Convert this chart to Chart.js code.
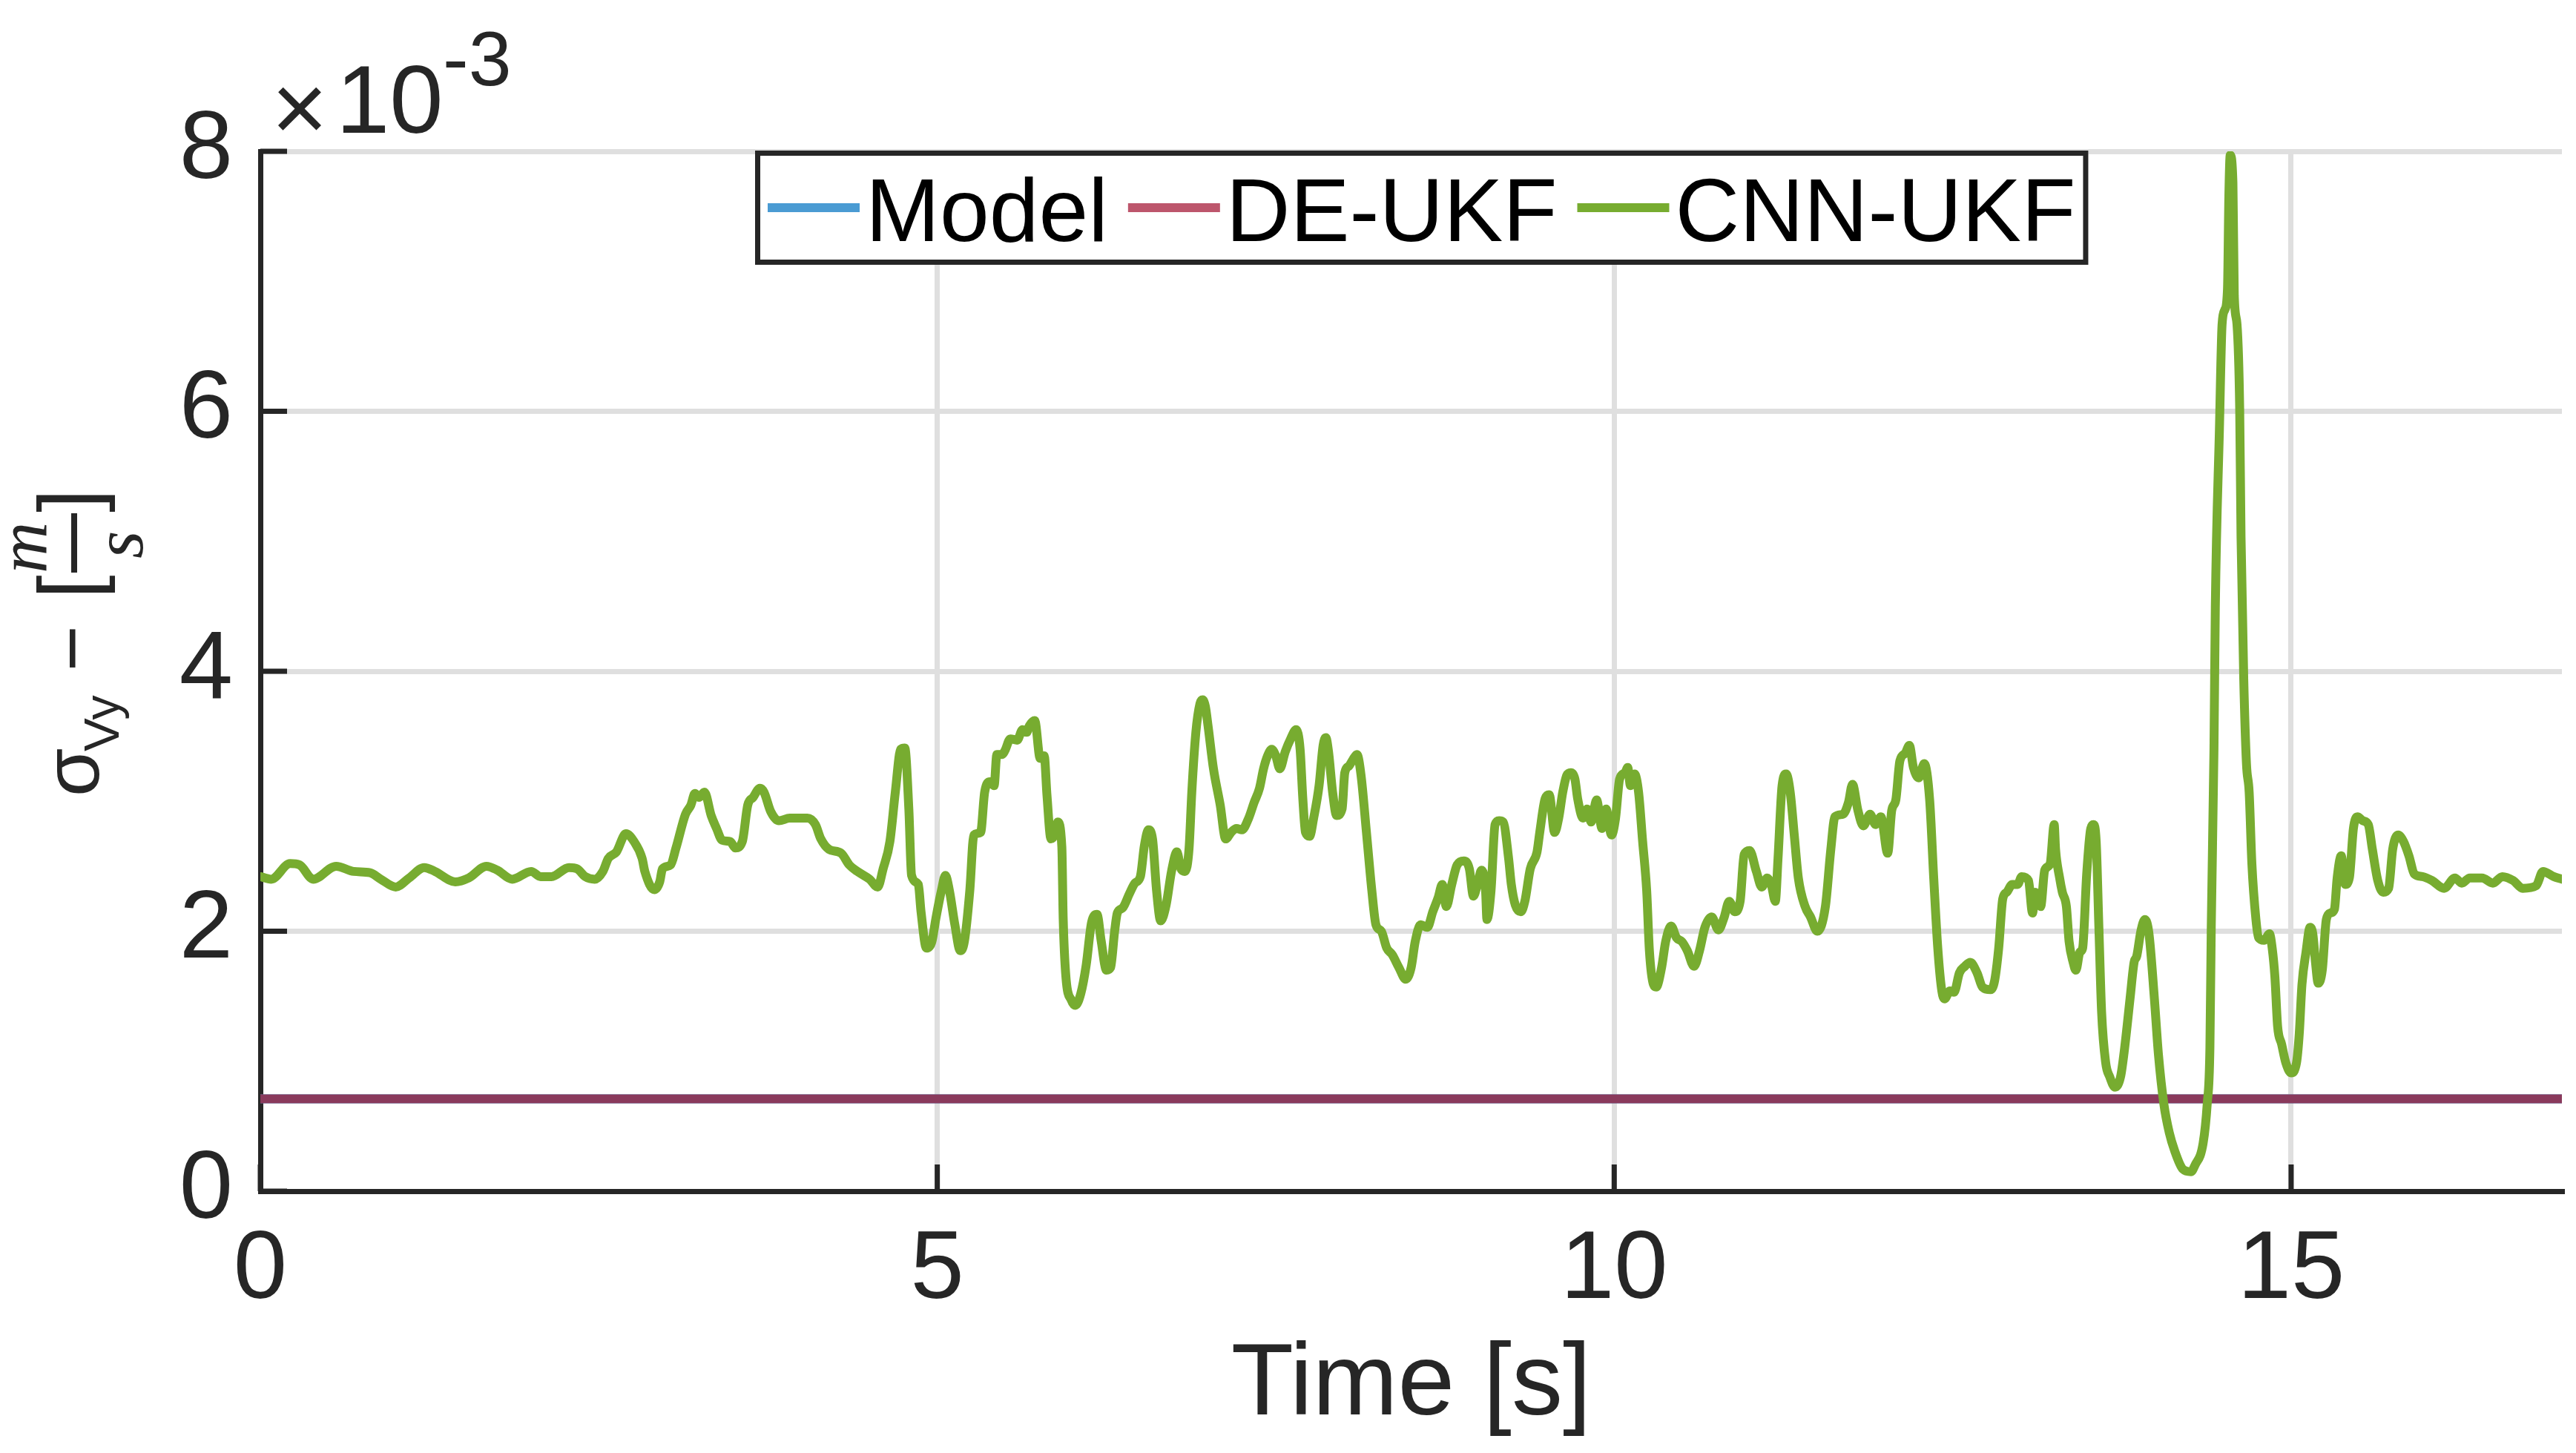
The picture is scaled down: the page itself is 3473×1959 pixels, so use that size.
<!DOCTYPE html>
<html>
<head>
<meta charset="utf-8">
<script src="https://cdn.jsdelivr.net/npm/chart.js@4.4.1/dist/chart.umd.min.js"></script>
<style>
    body { margin: 0; background: #fff; }
    canvas { display: block; }
</style>
</head>
<body>
<canvas id="chart" width="3473" height="1959"></canvas>
<script>
// values, y in units of 1e-3 m/s
const cnnTime = [
    0.00, 0.08, 0.22, 0.29, 0.39, 0.56, 0.69, 0.81, 0.89, 1.00, 1.10, 1.21, 1.29, 1.44, 1.54, 1.67, 1.75, 1.86, 2.00, 2.07,
    2.15, 2.28, 2.34, 2.40, 2.47, 2.53, 2.57, 2.63, 2.70, 2.76, 2.82, 2.84, 2.91, 2.95, 2.97, 3.03, 3.07, 3.14, 3.18, 3.21,
    3.24, 3.28, 3.33, 3.37, 3.41, 3.47, 3.51, 3.56, 3.60, 3.64, 3.69, 3.72, 3.77, 3.83, 3.91, 4.04, 4.10, 4.14, 4.20, 4.29,
    4.35, 4.41, 4.50, 4.56, 4.60, 4.65, 4.69, 4.73, 4.76, 4.79, 4.81, 4.86, 4.88, 4.92, 4.96, 4.99, 5.03, 5.06, 5.09, 5.13,
    5.17, 5.20, 5.24, 5.27, 5.32, 5.35, 5.39, 5.42, 5.44, 5.48, 5.50, 5.54, 5.59, 5.63, 5.66, 5.68, 5.72, 5.76, 5.79, 5.81,
    5.84, 5.87, 5.89, 5.92, 5.93, 5.95, 5.99, 6.02, 6.06, 6.10, 6.14, 6.18, 6.21, 6.25, 6.28, 6.31, 6.33, 6.37, 6.42, 6.46,
    6.50, 6.53, 6.56, 6.59, 6.62, 6.65, 6.69, 6.73, 6.77, 6.80, 6.83, 6.86, 6.88, 6.91, 6.94, 6.96, 6.98, 7.00, 7.04, 7.09,
    7.13, 7.17, 7.21, 7.25, 7.30, 7.34, 7.38, 7.41, 7.44, 7.47, 7.50, 7.53, 7.57, 7.61, 7.65, 7.68, 7.70, 7.72, 7.75, 7.78,
    7.82, 7.85, 7.87, 7.89, 7.92, 7.95, 7.99, 8.01, 8.04, 8.07, 8.10, 8.13, 8.17, 8.21, 8.24, 8.28, 8.32, 8.36, 8.41, 8.46,
    8.50, 8.53, 8.57, 8.62, 8.66, 8.70, 8.73, 8.76, 8.80, 8.84, 8.89, 8.93, 8.96, 8.99, 9.02, 9.05, 9.06, 9.09, 9.12, 9.15,
    9.18, 9.22, 9.24, 9.27, 9.31, 9.34, 9.38, 9.43, 9.45, 9.49, 9.52, 9.56, 9.59, 9.62, 9.65, 9.68, 9.71, 9.73, 9.77, 9.80,
    9.83, 9.87, 9.91, 9.94, 9.98, 10.01, 10.04, 10.08, 10.10, 10.12, 10.15, 10.18, 10.21, 10.24, 10.26, 10.29, 10.31, 10.35, 10.38, 10.42,
    10.46, 10.50, 10.54, 10.59, 10.63, 10.67, 10.72, 10.77, 10.81, 10.85, 10.89, 10.93, 10.96, 11.00, 11.05, 11.09, 11.13, 11.16, 11.19, 11.21,
    11.24, 11.27, 11.30, 11.33, 11.36, 11.41, 11.45, 11.50, 11.56, 11.60, 11.63, 11.69, 11.73, 11.76, 11.80, 11.84, 11.89, 11.93, 11.97, 12.02,
    12.05, 12.08, 12.11, 12.15, 12.18, 12.21, 12.25, 12.29, 12.33, 12.36, 12.39, 12.42, 12.44, 12.48, 12.51, 12.55, 12.59, 12.63, 12.68, 12.72,
    12.78, 12.81, 12.84, 12.87, 12.90, 12.94, 12.98, 13.01, 13.06, 13.09, 13.11, 13.15, 13.18, 13.22, 13.25, 13.26, 13.29, 13.31, 13.34, 13.36,
    13.39, 13.41, 13.44, 13.46, 13.49, 13.52, 13.54, 13.56, 13.58, 13.60, 13.63, 13.66, 13.70, 13.74, 13.77, 13.81, 13.84, 13.86, 13.89, 13.92,
    13.95, 13.99, 14.02, 14.06, 14.10, 14.14, 14.20, 14.26, 14.29, 14.35, 14.38, 14.40, 14.41, 14.43, 14.44, 14.47, 14.49, 14.51, 14.53, 14.54,
    14.55, 14.57, 14.58, 14.60, 14.62, 14.63, 14.65, 14.67, 14.69, 14.71, 14.74, 14.76, 14.80, 14.84, 14.86, 14.88, 14.90, 14.93, 14.96, 15.00,
    15.04, 15.06, 15.08, 15.11, 15.14, 15.16, 15.18, 15.20, 15.23, 15.26, 15.29, 15.32, 15.34, 15.37, 15.40, 15.43, 15.46, 15.49, 15.53, 15.57,
    15.60, 15.64, 15.68, 15.72, 15.75, 15.79, 15.83, 15.87, 15.91, 15.97, 16.04, 16.13, 16.21, 16.26, 16.32, 16.41, 16.49, 16.56, 16.64, 16.71,
    16.81, 16.86, 16.94, 17.00
];
const cnnValue = [
    2.42, 2.40, 2.52, 2.51, 2.40, 2.50, 2.46, 2.45, 2.40, 2.34, 2.41, 2.49, 2.46, 2.38, 2.41, 2.50, 2.47, 2.40, 2.46, 2.42,
    2.42, 2.49, 2.48, 2.42, 2.40, 2.46, 2.56, 2.61, 2.75, 2.69, 2.56, 2.46, 2.32, 2.38, 2.48, 2.51, 2.64, 2.90, 2.97, 3.06,
    3.03, 3.07, 2.89, 2.79, 2.70, 2.69, 2.64, 2.69, 2.97, 3.03, 3.10, 3.07, 2.92, 2.85, 2.87, 2.87, 2.82, 2.71, 2.63, 2.60,
    2.51, 2.46, 2.40, 2.34, 2.48, 2.69, 3.07, 3.40, 3.41, 2.94, 2.43, 2.36, 2.15, 1.87, 1.92, 2.10, 2.31, 2.43, 2.31, 2.05,
    1.85, 1.92, 2.31, 2.74, 2.76, 3.07, 3.15, 3.12, 3.36, 3.36, 3.39, 3.48, 3.47, 3.55, 3.53, 3.58, 3.62, 3.33, 3.35, 3.05,
    2.71, 2.75, 2.84, 2.65, 2.10, 1.65, 1.47, 1.43, 1.52, 1.74, 2.07, 2.13, 1.93, 1.70, 1.72, 2.00, 2.14, 2.18, 2.29, 2.37,
    2.42, 2.66, 2.78, 2.71, 2.31, 2.08, 2.20, 2.46, 2.61, 2.48, 2.46, 2.64, 3.07, 3.53, 3.75, 3.78, 3.73, 3.58, 3.25, 2.97,
    2.71, 2.76, 2.79, 2.78, 2.87, 2.99, 3.10, 3.25, 3.35, 3.40, 3.35, 3.25, 3.38, 3.48, 3.55, 3.40, 3.02, 2.76, 2.73, 2.87,
    3.12, 3.43, 3.49, 3.38, 3.07, 2.89, 2.94, 3.22, 3.27, 3.32, 3.36, 3.20, 2.76, 2.31, 2.05, 2.00, 1.87, 1.82, 1.72, 1.63,
    1.72, 1.92, 2.05, 2.03, 2.15, 2.26, 2.36, 2.19, 2.36, 2.51, 2.54, 2.48, 2.27, 2.36, 2.47, 2.31, 2.09, 2.31, 2.82, 2.85,
    2.84, 2.56, 2.36, 2.20, 2.15, 2.23, 2.48, 2.61, 2.76, 3.02, 3.05, 2.76, 2.87, 3.07, 3.20, 3.22, 3.17, 3.02, 2.87, 2.94,
    2.84, 3.01, 2.79, 2.94, 2.74, 2.87, 3.17, 3.22, 3.26, 3.12, 3.21, 3.07, 2.69, 2.31, 1.85, 1.59, 1.57, 1.72, 1.92, 2.04,
    1.95, 1.92, 1.85, 1.73, 1.85, 2.03, 2.11, 2.01, 2.10, 2.23, 2.15, 2.23, 2.59, 2.62, 2.46, 2.34, 2.41, 2.36, 2.23, 2.56,
    3.12, 3.21, 3.07, 2.74, 2.41, 2.19, 2.11, 2.00, 2.19, 2.63, 2.88, 2.90, 2.99, 3.13, 2.93, 2.81, 2.90, 2.82, 2.88, 2.60,
    2.93, 3.01, 3.31, 3.37, 3.43, 3.26, 3.18, 3.29, 3.01, 2.41, 1.87, 1.54, 1.48, 1.54, 1.53, 1.68, 1.73, 1.76, 1.68, 1.57,
    1.55, 1.62, 1.87, 2.25, 2.30, 2.36, 2.36, 2.42, 2.39, 2.14, 2.30, 2.19, 2.47, 2.52, 2.82, 2.63, 2.41, 2.30, 2.19, 1.92,
    1.76, 1.70, 1.84, 1.87, 2.44, 2.79, 2.82, 2.69, 2.03, 1.38, 0.99, 0.88, 0.80, 0.88, 1.10, 1.48, 1.76, 1.81, 2.00, 2.09,
    1.98, 1.48, 1.05, 0.67, 0.45, 0.31, 0.17, 0.15, 0.20, 0.37, 0.67, 1.10, 2.03, 3.40, 4.49, 5.85, 6.67, 6.78, 6.94, 7.65,
    7.97, 7.76, 6.89, 6.67, 6.02, 5.03, 3.94, 3.29, 3.07, 2.52, 2.09, 1.95, 1.93, 1.98, 1.87, 1.65, 1.27, 1.13, 0.99, 0.91,
    0.99, 1.21, 1.59, 1.84, 2.03, 1.98, 1.76, 1.60, 1.70, 2.09, 2.14, 2.17, 2.41, 2.58, 2.36, 2.41, 2.79, 2.88, 2.85, 2.82,
    2.63, 2.39, 2.30, 2.33, 2.63, 2.74, 2.69, 2.58, 2.44, 2.42, 2.39, 2.33, 2.41, 2.37, 2.41, 2.41, 2.37, 2.42, 2.39, 2.33,
    2.35, 2.46, 2.42, 2.40
];
const flatTime = [0, 17];
const modelValue = [0.71, 0.71];
const deUkfValue = [0.71, 0.71];

const xTickValues = [0, 5, 10, 15];
const yTickValues = [0, 2, 4, 6, 8];

const FONT = '"Liberation Sans", Arial, Helvetica, sans-serif';
const AXIS = '#262626';

function points(xs, ys) {
    return xs.map((x, i) => ({ x: x, y: ys[i] }));
}

// MATLAB style: ticks pointing inwards, legend box, exponent and y label
const decorations = {
    id: 'decorations',
    afterDatasetsDraw(chart) {
        const ctx = chart.ctx;
        const area = chart.chartArea;
        const xs = chart.scales.x, ys = chart.scales.y;
        ctx.save();
        ctx.strokeStyle = AXIS;
        ctx.lineWidth = 7;
        ctx.beginPath();
        yTickValues.forEach(v => {
            const py = ys.getPixelForValue(v);
            ctx.moveTo(area.left, py);
            ctx.lineTo(area.left + 36, py);
        });
        xTickValues.forEach(v => {
            const px = xs.getPixelForValue(v);
            ctx.moveTo(px, area.bottom);
            ctx.lineTo(px, area.bottom - 36);
        });
        ctx.stroke();
        ctx.restore();
    },
    afterDraw(chart) {
        const ctx = chart.ctx;
        ctx.save();

        // legend
        ctx.font = '120px ' + FONT;
        const lineLen = 124, gapA = 8, gapB = 27, pad = 17;
        const items = chart.data.datasets.map(ds => ({
            label: ds.label, color: ds.legendColor, w: ctx.measureText(ds.label).width
        }));
        let total = pad * 2;
        items.forEach((it, i) => { total += lineLen + gapA + it.w + (i < items.length - 1 ? gapB : 0); });
        const bx = 1018, by = 203, bh = 154;
        ctx.fillStyle = '#fff';
        ctx.fillRect(bx, by, total, bh);
        ctx.strokeStyle = AXIS;
        ctx.lineWidth = 7;
        ctx.strokeRect(bx + 3.5, by + 3.5, total - 7, bh - 7);
        let x = bx + pad;
        const midY = 280;
        items.forEach(it => {
            ctx.strokeStyle = it.color;
            ctx.lineWidth = 12;
            ctx.beginPath();
            ctx.moveTo(x, midY);
            ctx.lineTo(x + lineLen, midY);
            ctx.stroke();
            x += lineLen + gapA;
            ctx.fillStyle = '#000';
            ctx.textBaseline = 'alphabetic';
            ctx.fillText(it.label, x, 325);
            x += it.w + gapB;
        });

        // exponent
        ctx.fillStyle = AXIS;
        ctx.textBaseline = 'alphabetic';
        ctx.font = '130px ' + FONT;
        ctx.textAlign = 'center';
        ctx.fillText('\u00d7', 404, 190);
        ctx.textAlign = 'left';
        ctx.fillText('10', 453, 179);
        ctx.font = '104px ' + FONT;
        ctx.fillText('-3', 597, 115);

        // y label: sigma_Vy - [m/s]
        ctx.translate(100, 1071);
        ctx.rotate(-Math.PI / 2);
        ctx.font = '106px ' + FONT;
        ctx.fillText('\u03c3', -3, 33);
        ctx.font = '67px ' + FONT;
        ctx.fillText('Vy', 58, 60);
        ctx.font = '106px ' + FONT;
        ctx.fillText('\u2212', 166, 33);
        ctx.font = '114px ' + FONT;
        ctx.fillText('[', 264, 31);
        ctx.fillText(']', 380, 31);
        ctx.font = 'italic 96px "Liberation Serif", "DejaVu Serif", serif';
        ctx.fillText('m', 298, -37);
        ctx.fillText('s', 318, 92);
        ctx.fillRect(299, -4, 80, 8);
        ctx.restore();
    }
};

const config = {
    type: 'line',
    data: {
        datasets: [{
            label: 'Model',
            data: points(flatTime, modelValue),
            borderColor: '#4A9BD3',
            legendColor: '#4A9BD3',
            borderWidth: 12,
            order: 3
        }, {
            label: 'DE-UKF',
            data: points(flatTime, deUkfValue),
            borderColor: '#8A3A5C',
            legendColor: '#BD566C',
            borderWidth: 12,
            order: 2
        }, {
            label: 'CNN-UKF',
            data: points(cnnTime, cnnValue),
            borderColor: '#77AC30',
            legendColor: '#77AC30',
            borderWidth: 12,
            cubicInterpolationMode: 'monotone',
            order: 1
        }]
    },
    options: {
        responsive: false,
        devicePixelRatio: 1,
        animation: false,
        layout: {
            padding: { left: 0, right: 19, top: 204, bottom: 0 }
        },
        plugins: {
            legend: { display: false },
            tooltip: { enabled: false }
        },
        elements: {
            point: { radius: 0 },
            line: {
                tension: 0,
                borderJoinStyle: 'round',
                borderCapStyle: 'round'
            }
        },
        scales: {
            x: {
                type: 'linear',
                min: 0,
                max: 17,
                afterBuildTicks: s => { s.ticks = xTickValues.map(v => ({ value: v })); },
                afterFit: s => { s.height = 353; },
                grid: { color: '#DFDFDF', lineWidth: 7, drawTicks: false },
                border: { color: AXIS, width: 7 },
                ticks: {
                    color: AXIS,
                    padding: 30,
                    maxRotation: 0,
                    font: { family: FONT, size: 130 }
                },
                title: {
                    display: true,
                    text: 'Time [s]',
                    color: AXIS,
                    font: { family: FONT, size: 138 },
                    padding: { top: 0, bottom: 7 }
                }
            },
            y: {
                type: 'linear',
                min: 0,
                max: 8,
                afterBuildTicks: s => { s.ticks = yTickValues.map(v => ({ value: v })); },
                afterFit: s => { s.width = 351; },
                grid: { color: '#DFDFDF', lineWidth: 7, drawTicks: false },
                border: { color: AXIS, width: 7 },
                ticks: {
                    color: AXIS,
                    padding: 37,
                    font: { family: FONT, size: 130 }
                }
            }
        }
    },
    plugins: [decorations]
};

var myChart = new Chart(
    document.getElementById('chart'),
    config
);
</script>
</body>
</html>
